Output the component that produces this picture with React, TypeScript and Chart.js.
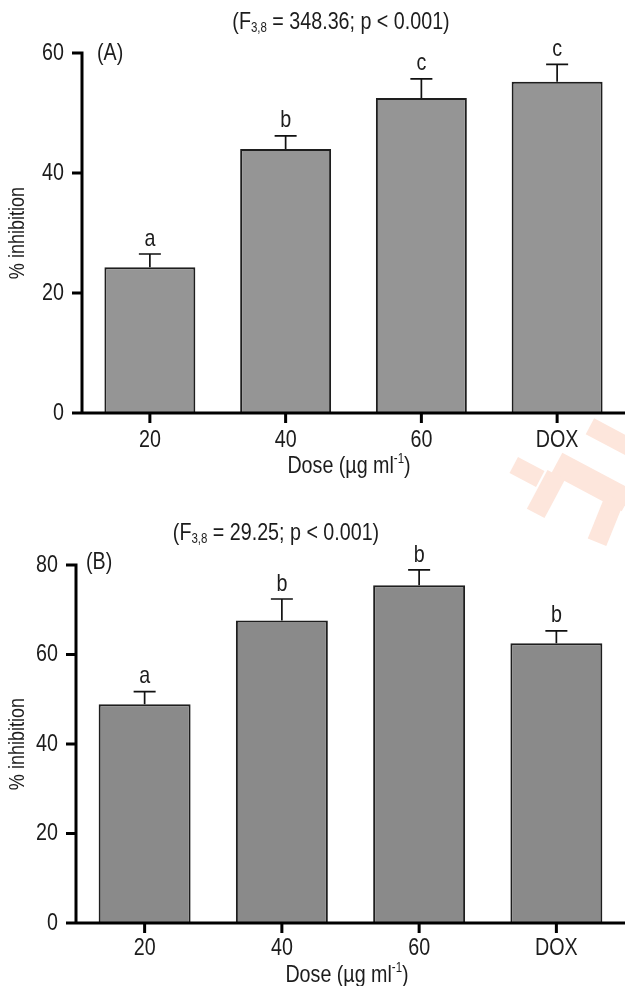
import React, { useEffect, useRef } from 'react';
import { Chart, registerables } from 'chart.js';

Chart.register(...registerables);

// ---------- data ----------
const categories = ['20', '40', '60', 'DOX'];

const valuesA = [24.3, 44.0, 52.5, 55.2];
const errorsA = [2.2, 2.2, 3.2, 2.9];
const lettersA = ['a', 'b', 'c', 'c'];
const ticksA = [0, 20, 40, 60];
const statA = { df: '3,8', f: '348.36', p: '0.001' };

const valuesB = [48.9, 67.6, 75.5, 62.5];
const errorsB = [2.8, 4.8, 3.4, 2.8];
const lettersB = ['a', 'b', 'b', 'b'];
const ticksB = [0, 20, 40, 60, 80];
const statB = { df: '3,8', f: '29.25', p: '0.001' };

const yTitle = '% inhibition';
const xTitleMain = 'Dose (µg ml';
const xTitleSup = '-1';

// ---------- styles ----------
const FONT = "'Liberation Sans', Arial, sans-serif";
const TEXT = '#1c1c1c';
const SX = 0.82; // horizontal condensing (narrow sans look)
const FS = 24;

type Seg = { t: string; size: number; dy: number };

function segWidth(ctx: CanvasRenderingContext2D, s: Seg) {
  ctx.font = `${s.size}px ${FONT}`;
  return ctx.measureText(s.t).width * SX;
}

// draws condensed rich text; x is anchor according to align, y is the middle line
function drawRich(
  ctx: CanvasRenderingContext2D,
  segs: Seg[],
  x: number,
  y: number,
  align: 'left' | 'center' | 'right',
  rotate = 0
) {
  const total = segs.reduce((a, s) => a + segWidth(ctx, s), 0);
  ctx.save();
  ctx.translate(x, y);
  if (rotate) ctx.rotate(rotate);
  let cx = align === 'left' ? 0 : align === 'center' ? -total / 2 : -total;
  ctx.fillStyle = TEXT;
  ctx.textBaseline = 'middle';
  ctx.textAlign = 'left';
  segs.forEach((s) => {
    const w = segWidth(ctx, s);
    ctx.save();
    ctx.translate(cx, s.dy);
    ctx.scale(SX, 1);
    ctx.font = `${s.size}px ${FONT}`;
    ctx.fillText(s.t, 0, 0);
    ctx.restore();
    cx += w;
  });
  ctx.restore();
}

function drawText(
  ctx: CanvasRenderingContext2D,
  t: string,
  x: number,
  y: number,
  align: 'left' | 'center' | 'right',
  size = FS,
  rotate = 0
) {
  drawRich(ctx, [{ t, size, dy: 0 }], x, y, align, rotate);
}

type Layout = {
  top: number;
  height: number;
  left: number;
  areaTop: number;
  areaBottom: number;
  titleX: number;
  titleY: number;
  labelX: number;
  labelY: number;
  xTitleX: number;
  xTitleY: number;
  xTickY: number;
  yTitleX: number;
};

type PanelProps = {
  values: number[];
  errors: number[];
  letters: string[];
  ticks: number[];
  stat: { df: string; f: string; p: string };
  panelLabel: string;
  barColor: string;
  L: Layout;
};

function Panel({ values, errors, letters, ticks, stat, panelLabel, barColor, L }: PanelProps) {
  const ref = useRef<HTMLCanvasElement | null>(null);

  useEffect(() => {
    const canvas = ref.current;
    if (!canvas) return;
    const yMax = ticks[ticks.length - 1];

    const overlay = {
      id: 'overlay',
      afterDatasetsDraw(chart: any) {
        const { ctx, scales } = chart;
        const x = scales.x;
        const y = scales.y;
        ctx.save();
        ctx.strokeStyle = '#111';
        ctx.lineWidth = 1.7;
        values.forEach((v, i) => {
          const px = x.getPixelForValue(i);
          const py0 = y.getPixelForValue(v);
          const py1 = y.getPixelForValue(v + errors[i]);
          ctx.beginPath();
          ctx.moveTo(px, py0);
          ctx.lineTo(px, py1);
          ctx.moveTo(px - 11, py1);
          ctx.lineTo(px + 11, py1);
          ctx.stroke();
          drawText(ctx, letters[i], px, py1 - 15, 'center');
        });
        ctx.restore();
      },
      afterDraw(chart: any) {
        const { ctx, chartArea, scales } = chart;
        const { left, bottom } = chartArea;
        const x = scales.x;
        const y = scales.y;
        ctx.save();
        ctx.strokeStyle = '#000';
        ctx.lineWidth = 3;
        ctx.lineCap = 'butt';
        ctx.beginPath();
        ctx.moveTo(left, y.getPixelForValue(yMax) - 1.5);
        ctx.lineTo(left, bottom);
        ctx.moveTo(left - 10, bottom);
        ctx.lineTo(chart.width, bottom);
        ticks.forEach((v) => {
          const py = y.getPixelForValue(v);
          ctx.moveTo(left - 10, py);
          ctx.lineTo(left, py);
        });
        categories.forEach((_, i) => {
          const px = x.getPixelForValue(i);
          ctx.moveTo(px, bottom);
          ctx.lineTo(px, bottom + 10);
        });
        ctx.stroke();
        ctx.restore();

        // tick labels
        ticks.forEach((v) => {
          drawText(ctx, String(v), left - 18, y.getPixelForValue(v), 'right');
        });
        categories.forEach((c, i) => {
          drawText(ctx, c, x.getPixelForValue(i), L.xTickY, 'center');
        });

        // axis titles
        drawText(ctx, yTitle, L.yTitleX, (chartArea.top + chartArea.bottom) / 2, 'center', 22, -Math.PI / 2);
        drawRich(
          ctx,
          [
            { t: xTitleMain, size: FS, dy: 0 },
            { t: xTitleSup, size: 14, dy: -7 },
            { t: ')', size: FS, dy: 0 },
          ],
          L.xTitleX,
          L.xTitleY,
          'center'
        );

        // statistic title
        drawRich(
          ctx,
          [
            { t: '(F', size: FS, dy: 0 },
            { t: stat.df, size: 14, dy: 6 },
            { t: ` = ${stat.f}; p < ${stat.p})`, size: FS, dy: 0 },
          ],
          L.titleX,
          L.titleY,
          'center'
        );

        // panel label
        drawText(ctx, panelLabel, L.labelX, L.labelY, 'left');
      },
    };

    const chart = new Chart(canvas, {
      type: 'bar',
      data: {
        labels: categories,
        datasets: [
          {
            data: values,
            backgroundColor: barColor,
            borderColor: '#1e1e1e',
            borderWidth: 2,
            borderSkipped: 'start',
            barPercentage: 0.67,
            categoryPercentage: 1,
          },
        ],
      },
      options: {
        responsive: false,
        animation: false,
        devicePixelRatio: 1,
        layout: { padding: { top: L.areaTop, right: 0, bottom: 0, left: 0 } },
        plugins: {
          legend: { display: false },
          tooltip: { enabled: false },
          title: { display: false },
        },
        scales: {
          x: {
            grid: { display: false, drawTicks: false },
            border: { display: false },
            ticks: { display: false },
            afterFit: (s: any) => {
              s.height = L.height - L.areaBottom;
            },
          },
          y: {
            min: 0,
            max: yMax,
            afterBuildTicks: (s: any) => {
              s.ticks = ticks.map((v) => ({ value: v }));
            },
            grid: { display: false, drawTicks: false },
            border: { display: false },
            ticks: { display: false },
            afterFit: (s: any) => {
              s.width = L.left;
            },
          },
        },
      } as any,
      plugins: [overlay],
    });
    return () => chart.destroy();
  }, []);

  return (
    <canvas
      ref={ref}
      width={625}
      height={L.height}
      style={{ position: 'absolute', left: 0, top: L.top, width: 625, height: L.height }}
    />
  );
}

const layoutA: Layout = {
  top: 0,
  height: 490,
  left: 82,
  areaTop: 53,
  areaBottom: 413,
  titleX: 341,
  titleY: 22,
  labelX: 97,
  labelY: 53,
  xTitleX: 349,
  xTitleY: 466,
  xTickY: 440,
  yTitleX: 18,
};

const layoutB: Layout = {
  top: 490,
  height: 496,
  left: 76,
  areaTop: 75,
  areaBottom: 433,
  titleX: 276,
  titleY: 43,
  labelX: 86,
  labelY: 72,
  xTitleX: 347,
  xTitleY: 485,
  xTickY: 458,
  yTitleX: 18,
};

const watermark = [
  { cx: 527, cy: 472, w: 30, h: 18, a: 28 },
  { cx: 592, cy: 482, w: 80, h: 24, a: 28 },
  { cx: 546, cy: 494, w: 44, h: 20, a: -62 },
  { cx: 606, cy: 520, w: 48, h: 20, a: -68 },
  { cx: 612, cy: 438, w: 50, h: 18, a: 28 },
];

export default function App() {
  return (
    <div style={{ position: 'absolute', left: 0, top: 0, width: 625, height: 986, overflow: 'hidden', background: '#fff' }}>
      {watermark.map((r, i) => (
        <div
          key={i}
          style={{
            position: 'absolute',
            left: r.cx - r.w / 2,
            top: r.cy - r.h / 2,
            width: r.w,
            height: r.h,
            background: '#fde6dc',
            transform: `rotate(${r.a}deg)`,
          }}
        />
      ))}
      <Panel
        values={valuesA}
        errors={errorsA}
        letters={lettersA}
        ticks={ticksA}
        stat={statA}
        panelLabel="(A)"
        barColor="#959595"
        L={layoutA}
      />
      <Panel
        values={valuesB}
        errors={errorsB}
        letters={lettersB}
        ticks={ticksB}
        stat={statB}
        panelLabel="(B)"
        barColor="#8a8a8a"
        L={layoutB}
      />
    </div>
  );
}
